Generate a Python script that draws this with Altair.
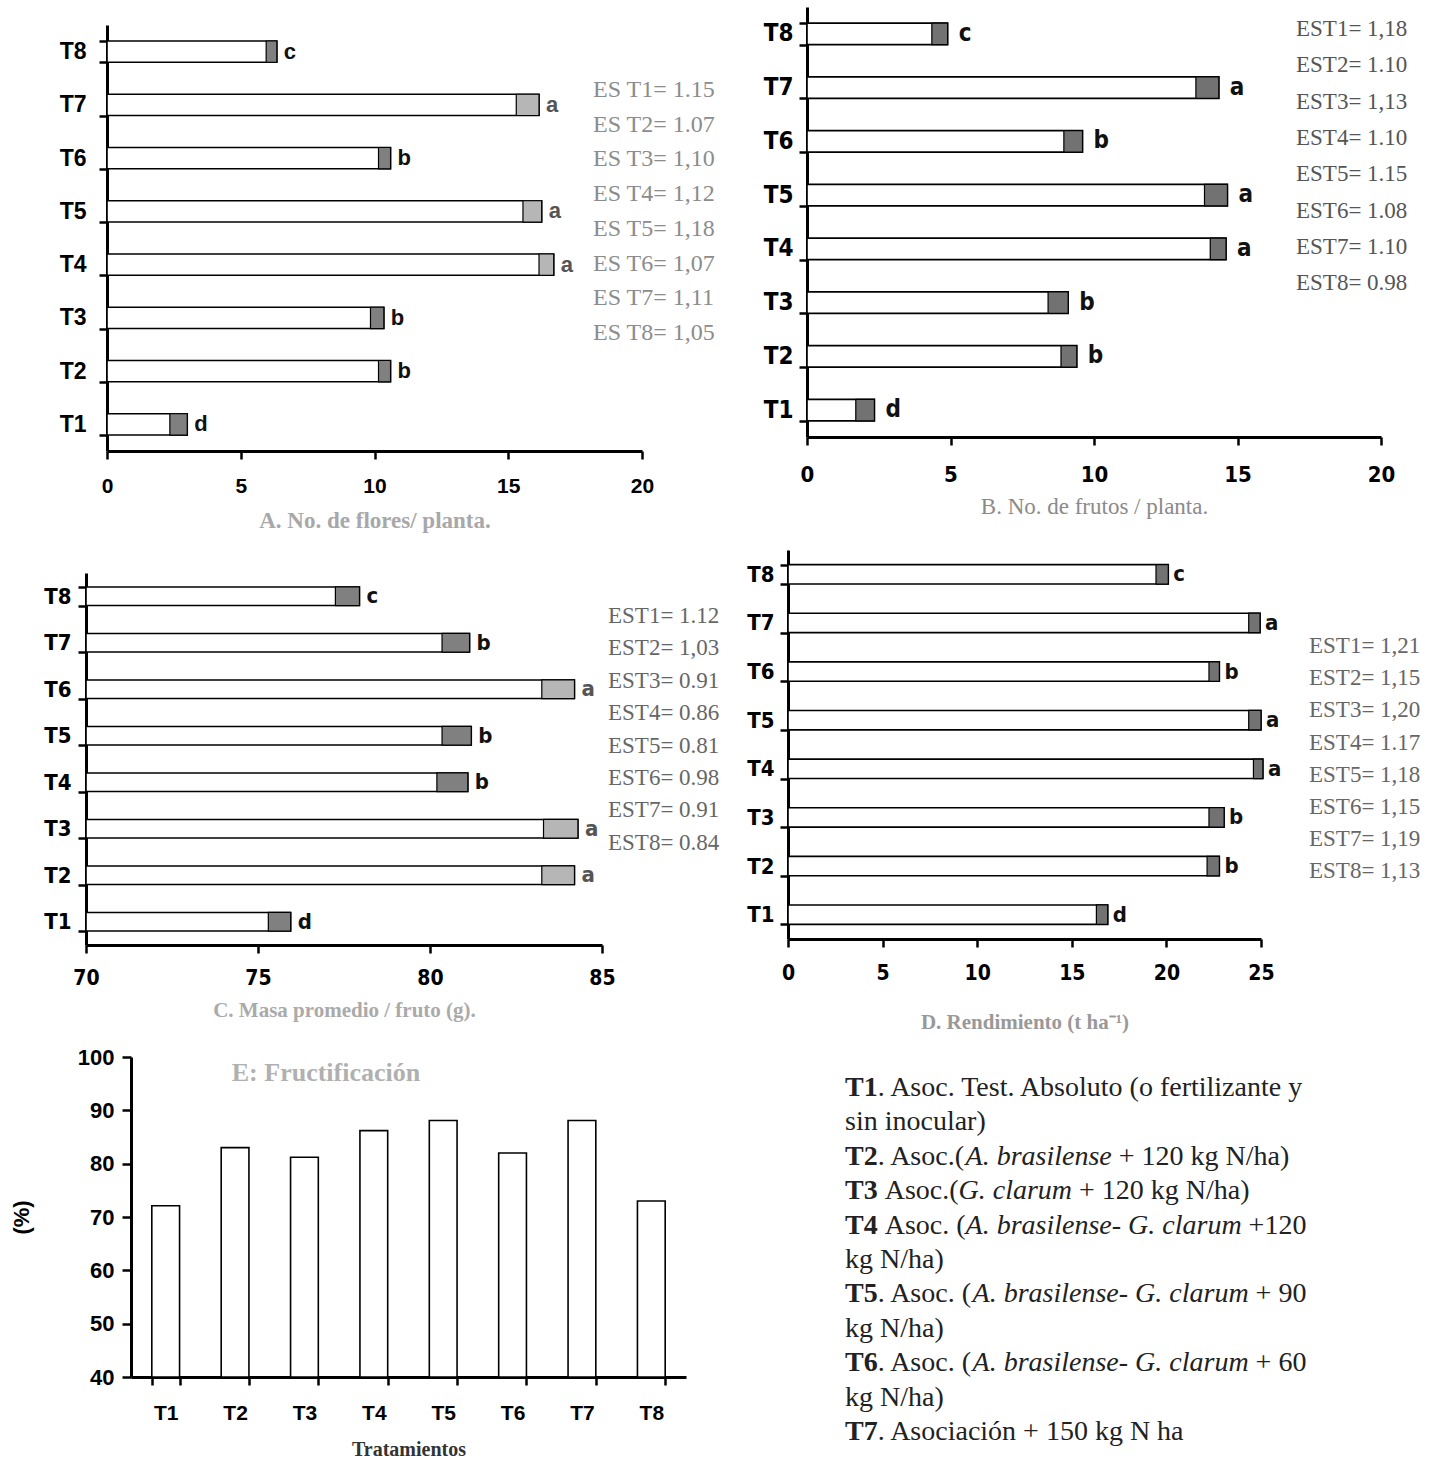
import altair as alt
import pandas as pd

W, H = 1442, 1470

tratamientos = ["T1", "T2", "T3", "T4", "T5", "T6", "T7", "T8"]

# A. No. de flores / planta
flores_blanco = [2.35, 10.15, 9.85, 16.15, 15.55, 10.15, 15.3, 5.95]
flores_total = [3.0, 10.6, 10.35, 16.7, 16.25, 10.6, 16.15, 6.35]
flores_letra = ["d", "b", "b", "a", "a", "b", "a", "c"]
flores_est = ["1.15", "1.07", "1,10", "1,12", "1,18", "1,07", "1,11", "1,05"]

# B. No. de frutos / planta
frutos_blanco = [1.7, 8.85, 8.4, 14.05, 13.85, 8.95, 13.55, 4.35]
frutos_total = [2.35, 9.4, 9.1, 14.6, 14.65, 9.6, 14.35, 4.9]
frutos_letra = ["d", "b", "b", "a", "a", "b", "a", "c"]
frutos_est = ["1,18", "1.10", "1,13", "1.10", "1.15", "1.08", "1.10", "0.98"]

# C. Masa promedio / fruto (g)
masa_blanco = [75.3, 83.25, 83.3, 80.2, 80.35, 83.25, 80.35, 77.25]
masa_total = [75.95, 84.2, 84.3, 81.1, 81.2, 84.2, 81.15, 77.95]
masa_letra = ["d", "a", "a", "b", "b", "a", "b", "c"]
masa_est = ["1.12", "1,03", "0.91", "0.86", "0.81", "0.98", "0.91", "0.84"]

# D. Rendimiento (t ha-1)
rend_blanco = [16.3, 22.15, 22.25, 24.6, 24.35, 22.25, 24.35, 19.45]
rend_total = [16.9, 22.8, 23.05, 25.1, 25.0, 22.8, 24.95, 20.1]
rend_letra = ["d", "b", "b", "a", "a", "b", "a", "c"]
rend_est = ["1,21", "1,15", "1,20", "1.17", "1,18", "1,15", "1,19", "1,13"]

# E. Fructificación (%)
fructificacion = [72.1, 83.0, 81.2, 86.2, 88.1, 82.0, 88.1, 73.0]

leyenda = [
    [("T1", "b"), (". Asoc. Test. Absoluto (o fertilizante y", "r")],
    [("sin inocular)", "r")],
    [("T2", "b"), (". Asoc.(", "r"), ("A. brasilense", "i"), (" + 120 kg N/ha)", "r")],
    [("T3", "b"), (" Asoc.(", "r"), ("G. clarum", "i"), (" + 120 kg N/ha)", "r")],
    [("T4", "b"), (" Asoc. (", "r"), ("A. brasilense- G. clarum", "i"), (" +120", "r")],
    [("kg N/ha)", "r")],
    [("T5", "b"), (". Asoc. (", "r"), ("A. brasilense- G. clarum", "i"), (" + 90", "r")],
    [("kg N/ha)", "r")],
    [("T6", "b"), (". Asoc. (", "r"), ("A. brasilense- G. clarum", "i"), (" + 60", "r")],
    [("kg N/ha)", "r")],
    [("T7", "b"), (". Asociación + 150 kg N ha", "r")],
]

SANS = "Liberation Sans, Arial, sans-serif"
NARROW = "Liberation Sans Narrow, DejaVu Sans Condensed, Liberation Sans, sans-serif"
SERIF = "Liberation Serif, Times New Roman, serif"


def panel(blanco, total, letras, est_lines, dominio, ticks, xr, yr, titulo, lay):
    df = pd.DataFrame({"trat": tratamientos, "blanco": blanco, "total": total, "letra": letras})
    xs = alt.Scale(domain=dominio, range=list(xr), nice=False, zero=False)
    ys = alt.Scale(domain=tratamientos[::-1], range=list(yr), paddingInner=0.6, paddingOuter=0.3)
    xa = alt.Axis(orient="bottom", offset=yr[1] - H, values=ticks, format="d", labelFlush=False,
                  labelFont=lay["lfont"], labelFontSize=lay["lsize"], labelFontWeight="bold",
                  labelColor="black", labelPadding=lay["xlpad"], tickSize=8, tickWidth=2.5,
                  tickColor="black", domainWidth=3, domainColor="black", grid=False,
                  title=titulo, titleFont=SERIF, titleFontSize=lay["tsize"],
                  titleFontWeight=lay["tweight"], titleColor=lay["tcolor"], titlePadding=lay["tpad"])
    ya = alt.Axis(orient="left", offset=-xr[0], tickBand="extent", labelFont=lay["lfont"],
                  labelFontSize=lay["ylsize"], labelFontWeight="bold", labelColor="black",
                  labelPadding=lay["ylpad"], tickSize=8, tickWidth=2.5, tickColor="black",
                  domainWidth=3, domainColor="black", grid=False, title=None)
    base = alt.Chart(df)
    Y = alt.Y("trat:N", scale=ys, axis=ya)
    blanco_l = base.mark_bar(fill="white", stroke="black", strokeWidth=1.6).encode(
        x=alt.X("total:Q", scale=xs, axis=xa), x2=alt.datum(dominio[0]), y=Y)
    if lay["claro_a"]:
        relleno = alt.when(alt.datum.letra == "a").then(alt.value("#b6b6b6")).otherwise(alt.value("#808080"))
    else:
        relleno = alt.value("#727272")
    gris_l = base.mark_bar(stroke="black", strokeWidth=1.2).encode(
        x=alt.X("blanco:Q", scale=xs, axis=xa), x2="total:Q", y=Y, fill=relleno)
    if lay["claro_a"]:
        col = alt.when(alt.datum.letra == "a").then(alt.value("#555555")).otherwise(alt.value("#111111"))
    else:
        col = alt.value("#111111")
    letras_l = base.mark_text(align="left", baseline="middle", dx=lay["ldx"], font=lay["lfont"],
                              fontSize=lay["letsize"], fontWeight="bold").encode(
        x=alt.X("total:Q", scale=xs, axis=xa), y=Y, text="letra:N", color=col)
    est_l = alt.Chart(pd.DataFrame({"k": [0]})).mark_text(
        text=est_lines, lineHeight=lay["est_lh"], align="left", baseline="alphabetic",
        font=SERIF, fontSize=lay["est_size"], color=lay["est_color"]).encode(
        x=alt.value(lay["est_x"]), y=alt.value(lay["est_y"]))
    return alt.layer(blanco_l, gris_l, letras_l, est_l)


pA = panel(flores_blanco, flores_total, flores_letra,
           [f"ES T{i + 1}= {v}" for i, v in enumerate(flores_est)],
           [0, 20], [0, 5, 10, 15, 20], (107, 642), (25, 451), "A. No. de flores/ planta.",
           dict(lfont=SANS, lsize=21, ylsize=23, xlpad=16, ylpad=13, tsize=23, tweight="bold",
                tcolor="#a8a8a8", tpad=13, claro_a=True, ldx=7, letsize=22, est_lh=34.7,
                est_size=24, est_color="#8c8c8c", est_x=593, est_y=97))
pB = panel(frutos_blanco, frutos_total, frutos_letra,
           [f"EST{i + 1}= {v}" for i, v in enumerate(frutos_est)],
           [0, 20], [0, 5, 10, 15, 20], (807, 1381), (7, 437), "B. No. de frutos / planta.",
           dict(lfont=NARROW, lsize=22, ylsize=24, xlpad=19, ylpad=6, tsize=23, tweight="normal",
                tcolor="#8a8a8a", tpad=10, claro_a=False, ldx=11, letsize=24, est_lh=36.3,
                est_size=23, est_color="#555555", est_x=1296, est_y=36))
pC = panel(masa_blanco, masa_total, masa_letra,
           [f"EST{i + 1}= {v}" for i, v in enumerate(masa_est)],
           [70, 85], [70, 75, 80, 85], (86, 602), (573, 945), "C. Masa promedio / fruto (g).",
           dict(lfont=NARROW, lsize=21, ylsize=22, xlpad=14, ylpad=7, tsize=21, tweight="bold",
                tcolor="#aaaaaa", tpad=11, claro_a=True, ldx=7, letsize=22, est_lh=32.4,
                est_size=23, est_color="#666666", est_x=608, est_y=623))
pD = panel(rend_blanco, rend_total, rend_letra,
           [f"EST{i + 1}= {v}" for i, v in enumerate(rend_est)],
           [0, 25], [0, 5, 10, 15, 20, 25], (788, 1261), (550, 939), "D. Rendimiento (t ha\u207b\u00b9)",
           dict(lfont=NARROW, lsize=21, ylsize=22, xlpad=15, ylpad=6, tsize=21, tweight="bold",
                tcolor="#999999", tpad=28, claro_a=False, ldx=5, letsize=22, est_lh=32.2,
                est_size=23, est_color="#666666", est_x=1309, est_y=653))

# Panel E
dfE = pd.DataFrame({"trat": tratamientos, "fruct": fructificacion})
xsE = alt.Scale(domain=tratamientos, range=[131, 686], paddingInner=0.6, paddingOuter=0.3)
ysE = alt.Scale(domain=[40, 100], range=[1377, 1057], nice=False, zero=False)
xaE = alt.Axis(orient="bottom", offset=1377 - H, tickBand="extent", labelAngle=0, labelFont=SANS,
               labelFontSize=21, labelFontWeight="bold", labelColor="black", labelPadding=17,
               tickSize=8, tickWidth=2.5, tickColor="black", domainWidth=3, domainColor="black",
               grid=False, title="Tratamientos", titleFont=SERIF, titleFontSize=20,
               titleFontWeight="bold", titleColor="#333333", titlePadding=16)
yaE = alt.Axis(orient="left", offset=-131, values=[40, 50, 60, 70, 80, 90, 100], labelFlush=False,
               labelFont=SANS, labelFontSize=22, labelFontWeight="bold", labelColor="black",
               labelPadding=8, tickSize=9, tickWidth=2.5, tickColor="black", domainWidth=3,
               domainColor="black", grid=False, title="(%)", titleFont=SANS, titleFontSize=22,
               titleFontWeight="bold", titleColor="black", titlePadding=44)
barsE = alt.Chart(dfE).mark_bar(fill="white", stroke="black", strokeWidth=1.6).encode(
    x=alt.X("trat:N", scale=xsE, axis=xaE),
    y=alt.Y("fruct:Q", scale=ysE, axis=yaE),
    y2=alt.datum(40))
tituloE = alt.Chart(pd.DataFrame({"k": [0]})).mark_text(
    text="E: Fructificación", font=SERIF, fontSize=26, fontWeight="bold", color="#b0b0b0",
    align="center", baseline="middle").encode(x=alt.value(326), y=alt.value(1073))
pE = alt.layer(barsE, tituloE)

# Legend text block (rich text assembled from segments)
TR = {" ": 250, "(": 333, ")": 333, "+": 564, ",": 250, "-": 333, ".": 250, "/": 278, "=": 564,
      "A": 722, "G": 722, "N": 722, "T": 611, "a": 444, "b": 500, "c": 444, "d": 500, "e": 444,
      "f": 333, "g": 500, "h": 500, "i": 278, "k": 500, "l": 278, "m": 778, "n": 500, "o": 500,
      "p": 500, "r": 333, "s": 389, "t": 278, "u": 500, "v": 500, "y": 500, "z": 444, "ó": 500}
TB = {"T": 667, ".": 250, " ": 250}
TI = {"A": 611, "G": 722, ".": 250, " ": 250, "-": 333, "a": 500, "b": 500, "c": 444, "e": 444,
      "i": 278, "l": 278, "m": 722, "n": 500, "r": 389, "s": 389, "u": 500}
FS_LEY = 28


def ancho(s, estilo):
    tab = {"r": TR, "b": TB, "i": TI}[estilo]
    return sum(tab.get(c, TR.get(c, 500)) for c in s) * FS_LEY / 1000


filas = []
for li, linea in enumerate(leyenda):
    x = 845.0
    y = 1096 + li * 34.4
    for seg, est in linea:
        lead = len(seg) - len(seg.lstrip())
        filas.append({"txt": seg.strip(), "px": x + ancho(seg[:lead], est), "py": y, "estilo": est})
        x += ancho(seg, est)
dfL = pd.DataFrame(filas)
baseL = alt.Chart(dfL).encode(
    x=alt.X("px:Q", scale=None, axis=None), y=alt.Y("py:Q", scale=None, axis=None), text="txt:N")
leyR = baseL.transform_filter(alt.datum.estilo == "r").mark_text(
    font=SERIF, fontSize=FS_LEY, align="left", baseline="alphabetic", color="#222222")
leyB = baseL.transform_filter(alt.datum.estilo == "b").mark_text(
    font=SERIF, fontSize=FS_LEY, fontWeight="bold", align="left", baseline="alphabetic", color="#222222")
leyI = baseL.transform_filter(alt.datum.estilo == "i").mark_text(
    font=SERIF, fontSize=FS_LEY, fontStyle="italic", align="left", baseline="alphabetic", color="#222222")
pL = alt.layer(leyR, leyB, leyI)

chart = alt.layer(pA, pB, pC, pD, pE, pL).resolve_scale(
    x="independent", y="independent", fill="independent", color="independent"
).resolve_axis(x="independent", y="independent").properties(
    width=W, height=H, autosize=alt.AutoSizeParams(type="none"), padding=0, background="white"
).configure_view(stroke=None)

chart.save("out.html", embed_options={"renderer": "svg", "actions": False})
